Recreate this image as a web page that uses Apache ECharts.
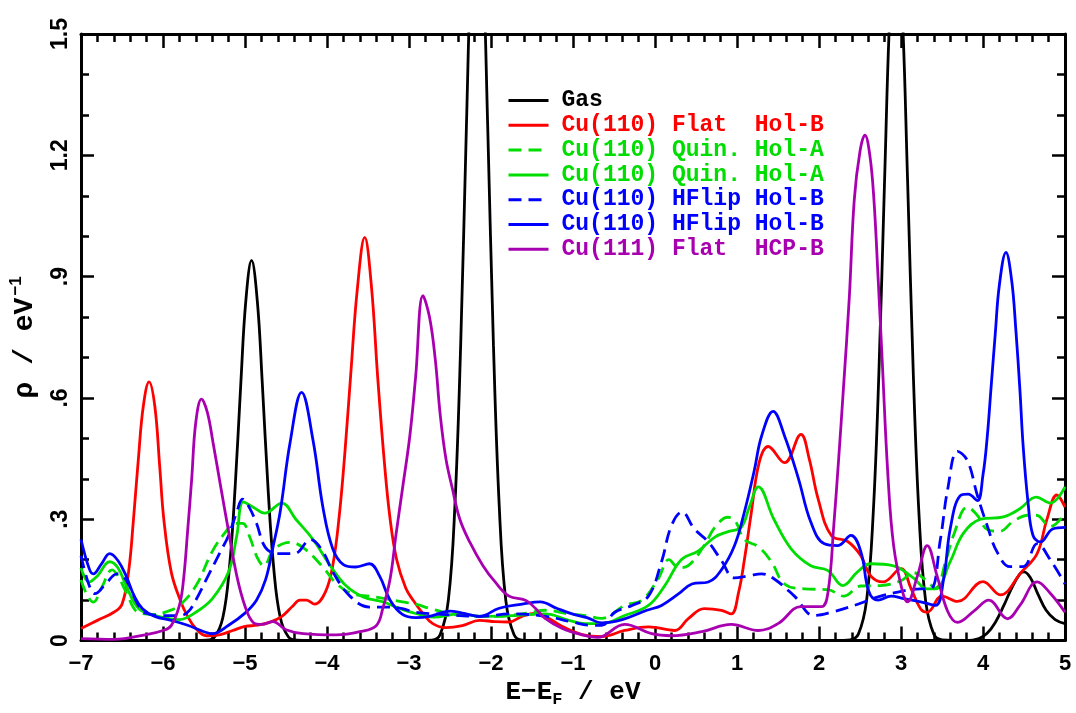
<!DOCTYPE html>
<html>
<head>
<meta charset="utf-8">
<script src="https://cdn.jsdelivr.net/npm/echarts@6/dist/echarts.min.js"></script>
<style>
  html, body { margin: 0; padding: 0; background: #fff; }
  #chart { width: 1076px; height: 713px; }
</style>
</head>
<body>
<div id="chart"></div>
<script>
// E - E_F (eV), rho (1/eV) pairs
const gas = [
  [-7, 0], [-5.6, 0], [-5.47, 0.001], [-5.37, 0.009], [-5.27, 0.057], [-5.19, 0.18], [-5.12, 0.38],
  [-5.05, 0.64], [-4.99, 0.84], [-4.92, 0.94], [-4.85, 0.84], [-4.79, 0.64], [-4.72, 0.38],
  [-4.65, 0.18], [-4.57, 0.057], [-4.47, 0.009], [-4.37, 0.001], [-4.2, 0], [-2.85, 0],
  [-2.72, 0.001], [-2.62, 0.015], [-2.52, 0.10], [-2.44, 0.335], [-2.37, 0.73], [-2.30, 1.27],
  [-2.24, 1.69], [-2.17, 1.9], [-2.10, 1.69], [-2.04, 1.27], [-1.97, 0.73], [-1.90, 0.335],
  [-1.82, 0.10], [-1.72, 0.015], [-1.62, 0.001], [-1.45, 0], [2.2, 0],
  [2.38, 0.002], [2.48, 0.016], [2.58, 0.099], [2.66, 0.31], [2.73, 0.66], [2.80, 1.14],
  [2.87, 1.58], [2.94, 1.76], [3.01, 1.58], [3.08, 1.14], [3.15, 0.66], [3.22, 0.31],
  [3.30, 0.099], [3.40, 0.016], [3.50, 0.002], [3.8, 0], [3.95, 0.005], [4.05, 0.018],
  [4.15, 0.045], [4.25, 0.085], [4.35, 0.13], [4.45, 0.165], [4.5, 0.17], [4.58, 0.155],
  [4.67, 0.115], [4.77, 0.075], [4.88, 0.052], [5.0, 0.042]
];
const cu110Flat = [
  [-7, 0.03], [-6.8, 0.05], [-6.6, 0.07], [-6.5, 0.09], [-6.42, 0.17], [-6.36, 0.3], [-6.3, 0.45],
  [-6.24, 0.58], [-6.17, 0.64], [-6.1, 0.58], [-6.04, 0.43], [-5.99, 0.3], [-5.9, 0.17],
  [-5.79, 0.1], [-5.7, 0.06], [-5.6, 0.03], [-5.47, 0.012], [-5.3, 0.015], [-5.15, 0.025],
  [-5.0, 0.035], [-4.85, 0.038], [-4.7, 0.045], [-4.55, 0.06], [-4.42, 0.085], [-4.33, 0.1],
  [-4.25, 0.1], [-4.15, 0.09], [-4.02, 0.12], [-3.93, 0.185], [-3.85, 0.31], [-3.78, 0.47],
  [-3.71, 0.66], [-3.63, 0.87], [-3.54, 0.997], [-3.46, 0.88], [-3.38, 0.646], [-3.3, 0.44],
  [-3.23, 0.3], [-3.15, 0.2], [-3.04, 0.13], [-2.95, 0.1], [-2.83, 0.067], [-2.71, 0.042],
  [-2.55, 0.032], [-2.35, 0.037], [-2.14, 0.05], [-1.95, 0.047], [-1.78, 0.046], [-1.62, 0.06],
  [-1.46, 0.067], [-1.34, 0.06], [-1.13, 0.035], [-0.89, 0.015], [-0.65, 0.01], [-0.37, 0.025],
  [-0.08, 0.034], [0.24, 0.025], [0.41, 0.055], [0.6, 0.079], [0.81, 0.075], [0.93, 0.066],
  [1.02, 0.12], [1.09, 0.2], [1.17, 0.31], [1.27, 0.44], [1.38, 0.48], [1.58, 0.44], [1.78, 0.51],
  [1.88, 0.45], [1.99, 0.35], [2.15, 0.26], [2.35, 0.245], [2.51, 0.21], [2.63, 0.16],
  [2.78, 0.145], [3.0, 0.178], [3.12, 0.13], [3.24, 0.078], [3.32, 0.07], [3.5, 0.11],
  [3.69, 0.097], [4.0, 0.146], [4.21, 0.113], [4.47, 0.17], [4.66, 0.215], [4.78, 0.3],
  [4.9, 0.36], [5.0, 0.33]
];
const cu110QuinDash = [
  [-7, 0.15], [-6.92, 0.11], [-6.85, 0.095], [-6.75, 0.13], [-6.62, 0.175], [-6.55, 0.16],
  [-6.45, 0.12], [-6.3, 0.07], [-6.1, 0.065], [-5.95, 0.072], [-5.8, 0.087], [-5.6, 0.135],
  [-5.4, 0.22], [-5.25, 0.265], [-5.12, 0.29], [-5.03, 0.29], [-4.94, 0.255], [-4.85, 0.205],
  [-4.77, 0.185], [-4.65, 0.225], [-4.45, 0.243], [-4.28, 0.228], [-4.05, 0.182], [-3.88, 0.14],
  [-3.68, 0.115], [-3.48, 0.11], [-3.28, 0.103], [-3.08, 0.096], [-2.92, 0.09], [-2.7, 0.077],
  [-2.35, 0.062], [-1.95, 0.06], [-1.55, 0.068], [-1.34, 0.075], [-1.05, 0.066], [-0.85, 0.062],
  [-0.65, 0.055], [-0.37, 0.087], [-0.16, 0.1], [0.04, 0.153], [0.17, 0.2], [0.29, 0.18],
  [0.41, 0.186], [0.6, 0.235], [0.73, 0.28], [0.89, 0.305], [0.98, 0.295], [1.09, 0.25],
  [1.26, 0.232], [1.42, 0.195], [1.58, 0.14], [1.82, 0.128], [2.11, 0.126], [2.3, 0.11],
  [2.51, 0.135], [2.75, 0.136], [3.0, 0.148], [3.15, 0.168], [3.3, 0.15], [3.42, 0.13],
  [3.55, 0.2], [3.64, 0.26], [3.81, 0.33], [3.93, 0.31], [4.05, 0.275], [4.2, 0.27],
  [4.37, 0.295], [4.55, 0.31], [4.65, 0.31], [4.82, 0.282], [5.0, 0.315]
];
const cu110QuinSolid = [
  [-7, 0.18], [-6.9, 0.145], [-6.8, 0.16], [-6.65, 0.195], [-6.55, 0.18], [-6.45, 0.136],
  [-6.3, 0.08], [-6.1, 0.062], [-5.9, 0.054], [-5.8, 0.052], [-5.6, 0.07], [-5.4, 0.103],
  [-5.2, 0.17], [-5.1, 0.26], [-5.02, 0.343], [-4.9, 0.33], [-4.76, 0.315], [-4.55, 0.34],
  [-4.38, 0.3], [-4.17, 0.25], [-3.96, 0.185], [-3.77, 0.136], [-3.56, 0.108], [-3.32, 0.096],
  [-3.11, 0.079], [-2.92, 0.067], [-2.7, 0.058], [-2.4, 0.066], [-2.1, 0.06], [-1.7, 0.062],
  [-1.34, 0.066], [-1.05, 0.05], [-0.85, 0.042], [-0.65, 0.042], [-0.37, 0.062], [-0.08, 0.087],
  [0.12, 0.136], [0.32, 0.2], [0.53, 0.222], [0.73, 0.256], [0.9, 0.27], [1.05, 0.28],
  [1.15, 0.33], [1.26, 0.38], [1.45, 0.3], [1.66, 0.227], [1.9, 0.185], [2.11, 0.173],
  [2.29, 0.136], [2.47, 0.17], [2.63, 0.19], [2.91, 0.185], [3.15, 0.155], [3.32, 0.128],
  [3.42, 0.128], [3.6, 0.195], [3.76, 0.265], [3.97, 0.3], [4.25, 0.306], [4.45, 0.326],
  [4.65, 0.355], [4.82, 0.34], [5.0, 0.38]
];
const cu110HFlipDash = [
  [-7, 0.21], [-6.9, 0.136], [-6.83, 0.116], [-6.7, 0.14], [-6.56, 0.165], [-6.45, 0.15],
  [-6.3, 0.087], [-6.2, 0.067], [-6.0, 0.062], [-5.8, 0.062], [-5.7, 0.07], [-5.6, 0.1],
  [-5.45, 0.16], [-5.3, 0.22], [-5.2, 0.26], [-5.1, 0.318], [-5.03, 0.35], [-4.95, 0.33],
  [-4.86, 0.29], [-4.75, 0.23], [-4.6, 0.215], [-4.4, 0.215], [-4.2, 0.25], [-4.05, 0.22],
  [-3.93, 0.17], [-3.72, 0.11], [-3.48, 0.083], [-3.28, 0.083], [-3.08, 0.079], [-2.92, 0.07],
  [-2.6, 0.065], [-2.14, 0.06], [-1.74, 0.066], [-1.34, 0.06], [-1.01, 0.046], [-0.8, 0.038],
  [-0.65, 0.038], [-0.49, 0.07], [-0.28, 0.087], [-0.08, 0.11], [0.08, 0.195], [0.2, 0.284],
  [0.33, 0.318], [0.48, 0.276], [0.65, 0.244], [0.81, 0.198], [0.97, 0.155], [1.14, 0.16],
  [1.3, 0.165], [1.45, 0.153], [1.7, 0.11], [1.94, 0.062], [2.15, 0.07], [2.43, 0.087],
  [2.72, 0.108], [2.96, 0.12], [3.24, 0.128], [3.36, 0.128], [3.48, 0.25], [3.57, 0.375],
  [3.69, 0.468], [3.81, 0.445], [3.93, 0.36], [4.05, 0.285], [4.17, 0.22], [4.33, 0.183],
  [4.49, 0.183], [4.66, 0.24], [4.82, 0.2], [5.0, 0.14]
];
const cu110HFlipSolid = [
  [-7, 0.25], [-6.9, 0.178], [-6.85, 0.165], [-6.75, 0.19], [-6.65, 0.215], [-6.55, 0.198],
  [-6.45, 0.16], [-6.35, 0.11], [-6.25, 0.079], [-6.1, 0.06], [-5.9, 0.05], [-5.7, 0.038],
  [-5.5, 0.022], [-5.4, 0.017], [-5.2, 0.038], [-5.0, 0.068], [-4.86, 0.1], [-4.75, 0.15],
  [-4.66, 0.23], [-4.57, 0.32], [-4.45, 0.49], [-4.31, 0.614], [-4.17, 0.495], [-4.05, 0.33],
  [-3.93, 0.227], [-3.8, 0.188], [-3.65, 0.182], [-3.48, 0.19], [-3.36, 0.16], [-3.23, 0.1],
  [-3.08, 0.065], [-2.92, 0.057], [-2.75, 0.06], [-2.5, 0.073], [-2.35, 0.068], [-2.14, 0.06],
  [-1.9, 0.08], [-1.62, 0.09], [-1.4, 0.096], [-1.2, 0.08], [-1.01, 0.066], [-0.83, 0.057],
  [-0.65, 0.044], [-0.4, 0.052], [-0.1, 0.075], [0.08, 0.087], [0.29, 0.116], [0.45, 0.14],
  [0.65, 0.145], [0.81, 0.175], [0.97, 0.235], [1.09, 0.318], [1.21, 0.42], [1.3, 0.506],
  [1.44, 0.567], [1.58, 0.506], [1.75, 0.4], [1.9, 0.293], [2.06, 0.24], [2.23, 0.235],
  [2.39, 0.26], [2.51, 0.22], [2.61, 0.12], [2.72, 0.1], [2.88, 0.11], [3.03, 0.104],
  [3.24, 0.096], [3.42, 0.087], [3.52, 0.153], [3.6, 0.276], [3.72, 0.358], [3.82, 0.362],
  [3.93, 0.346], [4.0, 0.41], [4.05, 0.5], [4.1, 0.63], [4.15, 0.76], [4.2, 0.88], [4.28, 0.96],
  [4.35, 0.89], [4.4, 0.77], [4.45, 0.62], [4.49, 0.48], [4.55, 0.34], [4.61, 0.26],
  [4.7, 0.244], [4.85, 0.276], [5.0, 0.28]
];
const cu111Flat = [
  [-7, 0.005], [-6.6, 0.003], [-6.2, 0.015], [-6.0, 0.025], [-5.9, 0.037], [-5.8, 0.087],
  [-5.75, 0.15], [-5.7, 0.27], [-5.65, 0.4], [-5.6, 0.54], [-5.53, 0.597], [-5.46, 0.565],
  [-5.39, 0.49], [-5.3, 0.385], [-5.2, 0.27], [-5.1, 0.16], [-5.0, 0.085], [-4.9, 0.045],
  [-4.8, 0.04], [-4.66, 0.047], [-4.5, 0.027], [-4.29, 0.017], [-3.89, 0.014], [-3.6, 0.022],
  [-3.4, 0.037], [-3.32, 0.079], [-3.23, 0.153], [-3.16, 0.26], [-3.08, 0.375], [-2.99, 0.506],
  [-2.92, 0.65], [-2.83, 0.853], [-2.75, 0.8], [-2.68, 0.696], [-2.62, 0.56], [-2.55, 0.45],
  [-2.47, 0.375], [-2.38, 0.3], [-2.26, 0.244], [-2.1, 0.186], [-1.95, 0.145], [-1.78, 0.11],
  [-1.58, 0.1], [-1.46, 0.08], [-1.34, 0.055], [-1.13, 0.03], [-0.9, 0.015], [-0.7, 0.008],
  [-0.37, 0.04], [-0.04, 0.017], [0.2, 0.012], [0.57, 0.022], [0.93, 0.04], [1.26, 0.025],
  [1.5, 0.042], [1.78, 0.084], [2.03, 0.084], [2.11, 0.12], [2.18, 0.284], [2.24, 0.45],
  [2.3, 0.63], [2.37, 0.85], [2.43, 1.09], [2.5, 1.21], [2.56, 1.25], [2.62, 1.2], [2.67, 1.09],
  [2.72, 0.9], [2.77, 0.696], [2.84, 0.41], [2.91, 0.235], [3.02, 0.12], [3.08, 0.096],
  [3.2, 0.16], [3.32, 0.235], [3.44, 0.16], [3.57, 0.072], [3.69, 0.045], [3.9, 0.075],
  [4.07, 0.1], [4.3, 0.054], [4.45, 0.087], [4.66, 0.145], [4.82, 0.117], [5.0, 0.07]
];

const xTicks = [-7, 5, 1];      // min, max, interval
const yTicks = [0, 1.5, 0.3];

const RED = '#ff0000', GREEN = '#00dd00', BLUE = '#0000ff', PURPLE = '#a800b0';
const MONO = '"Liberation Mono", "Courier New", monospace';
const SANS = '"Liberation Sans", Arial, sans-serif';

let chart = echarts.init(document.getElementById('chart'));

function line(name, data, color, dashed) {
  return {
    name: name, type: 'line', data: data, smooth: 0.4,
    symbol: 'none', clip: true, animation: false,
    lineStyle: { color: color, width: 2.8, type: dashed ? [13, 7] : 'solid' },
    itemStyle: { color: color }
  };
}

const frame = { onZero: false, lineStyle: { color: '#000', width: 3 } };
const tick = { inside: true, length: 14, lineStyle: { color: '#000', width: 2.5 } };
const minor = { show: true, length: 8, lineStyle: { color: '#000', width: 2.5 } };

function xAx(pos, showLabel) {
  return {
    type: 'value', position: pos, min: xTicks[0], max: xTicks[1], interval: xTicks[2],
    axisLine: frame, axisTick: tick, splitLine: { show: false },
    minorTick: Object.assign({ splitNumber: 5 }, minor),
    axisLabel: {
      show: showLabel, margin: 12, color: '#000', fontFamily: SANS, fontWeight: 'bold', fontSize: 22,
      formatter: v => String(v).replace('-', '\u2212')
    }
  };
}
function yAx(pos, showLabel) {
  return {
    type: 'value', position: pos, min: yTicks[0], max: yTicks[1], interval: yTicks[2],
    axisLine: frame, axisTick: Object.assign({}, tick, { length: 13 }), splitLine: { show: false },
    minorTick: Object.assign({ splitNumber: 3 }, minor),
    axisLabel: {
      show: showLabel, rotate: 90, margin: 9, color: '#000', fontFamily: SANS, fontWeight: 'bold', fontSize: 23,
      formatter: v => {
        let r = Math.round(v * 10) / 10;
        return r === 0 ? '0' : String(r).replace(/^0\./, '.');
      }
    }
  };
}

let xBottom = xAx('bottom', true);
xBottom.name = '{a|E\u2212E}{s|F}{a| / eV}';
xBottom.nameLocation = 'middle';
xBottom.nameGap = 34;
xBottom.nameTextStyle = {
  rich: {
    a: { fontFamily: MONO, fontWeight: 'bold', fontSize: 26, color: '#000' },
    s: { fontFamily: MONO, fontWeight: 'bold', fontSize: 17, color: '#000', padding: [14, 0, 0, 0] }
  }
};
let yLeft = yAx('left', true);
yLeft.name = '{a|\u03c1 / eV}{s|\u22121}';
yLeft.nameLocation = 'middle';
yLeft.nameGap = 40;
yLeft.nameTextStyle = {
  rich: {
    a: { fontFamily: MONO, fontWeight: 'bold', fontSize: 28, color: '#000' },
    s: { fontFamily: SANS, fontWeight: 'bold', fontSize: 17, color: '#000', padding: [0, 0, 16, 2] }
  }
};

const names = [
  ['Gas', '#000'],
  ['Cu(110) Flat  Hol-B', RED],
  ['Cu(110) Quin. Hol-A', GREEN],
  ['Cu(110) Quin. Hol-A ', GREEN],
  ['Cu(110) HFlip Hol-B', BLUE],
  ['Cu(110) HFlip Hol-B ', BLUE],
  ['Cu(111) Flat  HCP-B', PURPLE]
];

chart.setOption({
  backgroundColor: '#fff',
  animation: false,
  grid: { left: 77, right: 11, top: 34, bottom: 71, containLabel: false },
  xAxis: [xBottom, xAx('top', false)],
  yAxis: [yLeft, yAx('right', false)],
  legend: {
    left: 502, top: 84, orient: 'vertical', itemWidth: 40, itemHeight: 14, itemGap: 1.8,
    selectedMode: false,
    itemStyle: { opacity: 0 },
    lineStyle: { width: 3 },
    textStyle: { fontFamily: MONO, fontWeight: 'bold', fontSize: 23, lineHeight: 22, padding: [0, 0, 0, 8] },
    data: names.map(n => ({ name: n[0], textStyle: { color: n[1] } }))
  },
  series: [
    line(names[0][0], gas, '#000', false),
    line(names[1][0], cu110Flat, RED, false),
    line(names[2][0], cu110QuinDash, GREEN, true),
    line(names[3][0], cu110QuinSolid, GREEN, false),
    line(names[4][0], cu110HFlipDash, BLUE, true),
    line(names[5][0], cu110HFlipSolid, BLUE, false),
    line(names[6][0], cu111Flat, PURPLE, false)
  ]
});
</script>
</body>
</html>
